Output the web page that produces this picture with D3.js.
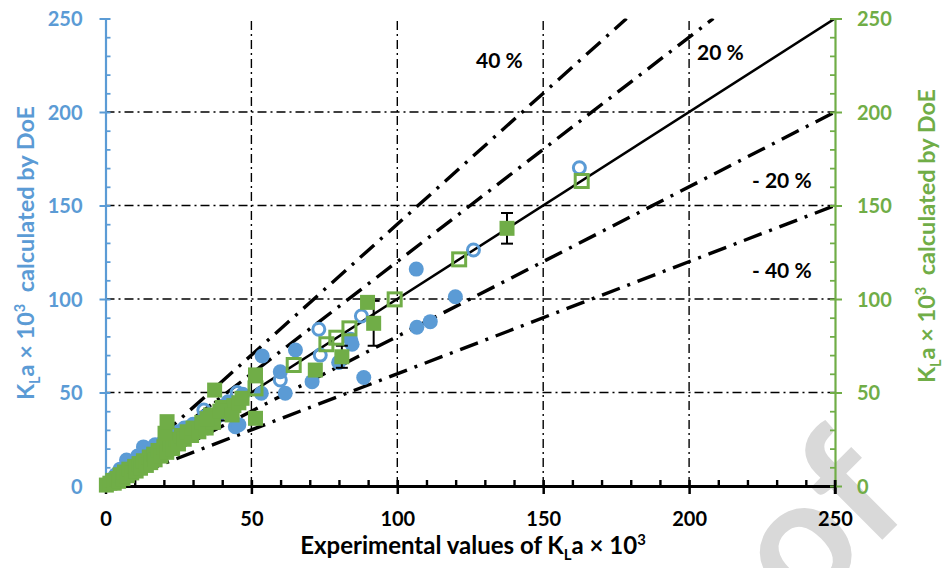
<!DOCTYPE html>
<html><head><meta charset="utf-8">
<script src="https://cdn.jsdelivr.net/npm/d3@7"></script>
<style>
body{margin:0;background:#fff}
svg{display:block}
text{font-family:Lato,"Open Sans",sans-serif;font-weight:700}
</style>
</head><body>
<svg id="chart" width="944" height="568"></svg>
<script>
// ---------- data ----------
const majorTicks = [0, 50, 100, 150, 200, 250];
const minorTicks = [10, 20, 30, 40, 60, 70, 80, 90, 110, 120, 130, 140, 160, 170, 180, 190, 210, 220, 230, 240];
const gridValues = [50, 100, 150, 200];
const refSlopes = [1.4, 1.2, 1.0, 0.8, 0.6];
const refLabels = ["40 %", "20 %", "- 20 %", "- 40 %"];

// blue filled circles [exp, doe]
const blueFilled = [
  [0.5,1],[2,3.5],[3.5,6],[5,9],[7.2,13.9],[9,12],[11,16],[13,20.9],[15,18],[17,22],
  [20,24],[23,27],[25,29],[28,31],[30,33],[32,30],[34,37],[36,34],[38.2,37],[40,42.4],
  [42,45],[44.5,31.7],[45.7,32.8],[47,49],[53.4,49.6],[53.7,69.5],[59.9,61.1],[61.6,49.6],
  [65.1,72.7],[70.8,55.8],[79.9,66.1],[84,78.5],[84.5,75.8],[88.5,58],[106.5,116],
  [106.7,84.9],[111.3,87.9],[119.9,101.2]
];
// blue open circles
const blueOpen = [
  [162.4,170.2],[126.1,126.2],[87.7,90.9],[73.1,83.8],[73.6,70],[59.9,56.7],[45.1,50],
  [33.7,40.6],[41.5,41],[27,31]
];
// green filled squares [exp, doe, error]
const greenFilled = [
  [0.3,0.5,0],[1.5,1.5,0],[2.5,3,0],[3,1.5,0],[4,4,0],[4.5,2.5,0],[5,6,0],[6,4,0],[6.5,7.5,0],
  [7.5,5.5,0],[8,9,0],[9,7,0],[10,10.5,0],[10.5,8,0],[11.5,12,0],[12,9.5,0],[13,13.5,0],
  [14,11,0],[15,15.5,0],[15.5,12.5,0],[16.5,17,0],[17,14,0],[18,19,0],[19,16,0],[20,21,0],
  [21,18,0],[22,22.5,0],[23,20,0],[24,25,0],[25,22.5,0],[26,27,0],[27,25,0],[28,29,0],
  [29.5,27,0],[30,31,0],[32,29,0],[33,34,0],[34.5,31,0],[36,38,0],[37,34,0],[40,42,0],
  [42,40,0],[44,43,0],[20.4,28.2,0],[21.1,34.4,0],[34.8,36,3],[39.2,40,5],
  [37.4,51.3,0],[43.4,38,0],[45.7,44.5,0],[46.8,46.9,0],[51.4,36.2,0],[51.4,59.4,0],
  [71.9,62,0],[81,69.1,5.9],[91.9,87,12],[89.8,98.2,0],[137.6,137.8,8.2]
];
// green open squares
const greenOpen = [
  [163.2,163.1],[121.2,121.2],[99.1,99.8],[83.6,84.3],[79.1,79.3],[75.7,75.8],[64.5,64.7],[51.4,52.2]
];

// ---------- setup ----------
const BLUE = "#5B9BD5", GREEN = "#70AD47";
const svg = d3.select("#chart");
const x = d3.scaleLinear().domain([0, 250]).range([105.5, 835]);
const y = d3.scaleLinear().domain([0, 250]).range([486, 18.5]);

// watermark
svg.append("text")
  .attr("transform", "translate(914,508) rotate(-45)")
  .attr("text-anchor", "end")
  .style("font-size", "172px").style("font-weight", "700")
  .attr("fill", "#d9d9d9").text("Proof");

svg.append("clipPath").attr("id", "plotclip").append("rect")
  .attr("x", x(0)).attr("y", y(250)).attr("width", x(250) - x(0)).attr("height", y(0) - y(250));

// gridlines
const grid = svg.append("g").attr("stroke", "#000").attr("stroke-width", 1.4).attr("stroke-dasharray", "9,4,2,4");
grid.selectAll(".vg").data(gridValues).join("line")
  .attr("x1", d => x(d)).attr("x2", d => x(d)).attr("y1", y(0)).attr("y2", y(250));
grid.selectAll(".hg").data(gridValues).join("line")
  .attr("x1", x(0)).attr("x2", x(250)).attr("y1", d => y(d)).attr("y2", d => y(d));

// reference lines
const ref = svg.append("g").attr("clip-path", "url(#plotclip)");
ref.selectAll("line").data(refSlopes).join("line")
  .attr("x1", x(0)).attr("y1", y(0))
  .attr("x2", d => x(Math.min(250, 250 / d)))
  .attr("y2", d => y(Math.min(250, 250 / d) * d))
  .attr("stroke", "#000")
  .attr("stroke-width", d => d === 1 ? 2.5 : 3.4)
  .attr("stroke-dasharray", d => d === 1 ? null : "19,8,3,8");

// ref labels
const labelPos = [[476, 68], [697, 60], [752, 188], [752, 278]];
svg.selectAll(".rl").data(refLabels).join("text")
  .attr("x", (d, i) => labelPos[i][0]).attr("y", (d, i) => labelPos[i][1])
  .style("font-size", "21px").attr("fill", "#000").text(d => d);

// ---------- axes ----------
function styleAxis(g, color, width) {
  g.select(".domain").attr("stroke", color).attr("stroke-width", width);
  g.selectAll(".tick line").attr("stroke", color).attr("stroke-width", width * 0.8);
}
// bottom
const gb = svg.append("g").attr("transform", `translate(0,${y(0)})`);
gb.call(d3.axisBottom(x).tickValues(minorTicks).tickSize(-6).tickSizeOuter(0).tickFormat(""));
gb.call(g => styleAxis(g, "#000", 3));
const gb2 = svg.append("g").attr("transform", `translate(0,${y(0)})`);
gb2.call(d3.axisBottom(x).tickValues(majorTicks).tickSize(8).tickSizeOuter(0));
gb2.select(".domain").remove();
gb2.selectAll(".tick line").attr("stroke", "#000").attr("stroke-width", 2.5).attr("y1", -6);
gb2.selectAll(".tick text").attr("y", 40).attr("dy", 0).attr("fill", "#000")
  .style("font-size", "20px").style("font-family", "Lato").style("font-weight", "700");

// left
const gl = svg.append("g").attr("transform", `translate(${x(0)},0)`);
gl.call(d3.axisLeft(y).tickValues(minorTicks).tickSize(-5).tickSizeOuter(0).tickFormat(""));
gl.call(g => styleAxis(g, BLUE, 2.2));
const gl2 = svg.append("g").attr("transform", `translate(${x(0)},0)`);
gl2.call(d3.axisLeft(y).tickValues(majorTicks).tickSize(6).tickSizeOuter(0));
gl2.select(".domain").remove();
gl2.selectAll(".tick line").attr("stroke", BLUE).attr("stroke-width", 2).attr("x2", -6).attr("x1", 5);
gl2.selectAll(".tick text").attr("x", -23).attr("dy", "0.36em").attr("fill", BLUE)
  .style("font-size", "20px").style("font-family", "Lato").style("font-weight", "700");

// right
const gr = svg.append("g").attr("transform", `translate(${x(250)},0)`);
gr.call(d3.axisRight(y).tickValues(minorTicks).tickSize(-5).tickSizeOuter(0).tickFormat(""));
gr.call(g => styleAxis(g, GREEN, 2.2));
const gr2 = svg.append("g").attr("transform", `translate(${x(250)},0)`);
gr2.call(d3.axisRight(y).tickValues(majorTicks).tickSize(7).tickSizeOuter(0));
gr2.select(".domain").remove();
gr2.selectAll(".tick line").attr("stroke", GREEN).attr("stroke-width", 2).attr("x1", -5);
gr2.selectAll(".tick text").attr("x", 22).attr("dy", "0.36em").attr("fill", GREEN)
  .style("font-size", "20px").style("font-family", "Lato").style("font-weight", "700");
svg.append("line").attr("x1", x(250)).attr("x2", x(250)).attr("y1", y(0) - 6).attr("y2", y(0) + 8)
  .attr("stroke", "#000").attr("stroke-width", 2.5);

// ---------- titles ----------
function kla(sel, size, rest) {
  sel.append("tspan").text("K");
  sel.append("tspan").attr("dy", size * 0.25).style("font-size", (size * 0.62) + "px").text("L");
  sel.append("tspan").attr("dy", -size * 0.25).text("a × 10");
  sel.append("tspan").attr("dy", -size * 0.38).style("font-size", (size * 0.62) + "px").text("3");
  if (rest) sel.append("tspan").attr("dy", size * 0.38).text(rest);
}
const tl = svg.append("text").attr("transform", "translate(34,253) rotate(-90)")
  .attr("text-anchor", "middle").attr("fill", BLUE).style("font-size", "23.5px");
kla(tl, 23.5, "\u00a0 calculated by DoE");
const tr = svg.append("text").attr("transform", "translate(935,236) rotate(-90)")
  .attr("text-anchor", "middle").attr("fill", GREEN).style("font-size", "23.5px");
kla(tr, 23.5, "\u00a0 calculated by DoE");
const tx = svg.append("text").attr("x", 473).attr("y", 554)
  .attr("text-anchor", "middle").attr("fill", "#000").style("font-size", "24px");
tx.append("tspan").text("Experimental values of ");
kla(tx, 24, null);

// ---------- markers ----------
svg.append("g").selectAll("circle").data(blueFilled).join("circle")
  .attr("cx", d => x(d[0])).attr("cy", d => y(d[1])).attr("r", 7.5).attr("fill", BLUE);
svg.append("g").selectAll("circle").data(blueOpen).join("circle")
  .attr("cx", d => x(d[0])).attr("cy", d => y(d[1])).attr("r", 6).attr("fill", "none")
  .attr("stroke", BLUE).attr("stroke-width", 3);
const eb = svg.append("g").attr("stroke", "#000").attr("stroke-width", 2);
const withErr = greenFilled.filter(d => d[2] > 0);
eb.selectAll(".v").data(withErr).join("line")
  .attr("x1", d => x(d[0])).attr("x2", d => x(d[0])).attr("y1", d => y(d[1] - d[2])).attr("y2", d => y(d[1] + d[2]));
eb.selectAll(".t").data(withErr).join("line")
  .attr("x1", d => x(d[0]) - 6).attr("x2", d => x(d[0]) + 6).attr("y1", d => y(d[1] + d[2])).attr("y2", d => y(d[1] + d[2]));
eb.selectAll(".b").data(withErr).join("line")
  .attr("x1", d => x(d[0]) - 6).attr("x2", d => x(d[0]) + 6).attr("y1", d => y(d[1] - d[2])).attr("y2", d => y(d[1] - d[2]));
svg.append("g").selectAll("rect").data(greenFilled).join("rect")
  .attr("x", d => x(d[0]) - 7.5).attr("y", d => y(d[1]) - 7.5).attr("width", 15).attr("height", 15).attr("fill", GREEN);
svg.append("g").selectAll("rect").data(greenOpen).join("rect")
  .attr("x", d => x(d[0]) - 6.5).attr("y", d => y(d[1]) - 6.5).attr("width", 13).attr("height", 13)
  .attr("fill", "none").attr("stroke", GREEN).attr("stroke-width", 3);
</script>
</body></html>
